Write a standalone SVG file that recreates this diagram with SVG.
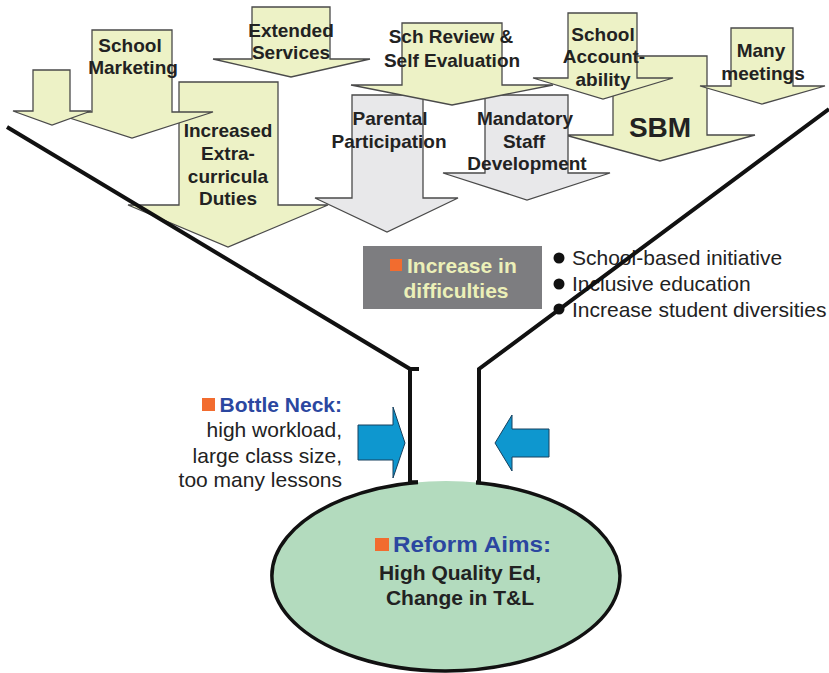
<svg xmlns="http://www.w3.org/2000/svg" width="829" height="673" viewBox="0 0 829 673">
<style>
.ya{fill:#edf2c6;stroke:#4a4a4a;stroke-width:1.3;stroke-linejoin:miter}
.ga{fill:#e8e8ea;stroke:#4a4a4a;stroke-width:1.3}
.lb{font-family:"Liberation Sans",Arial,sans-serif;font-weight:bold;font-size:19px;fill:#222;text-anchor:middle}
.fn{fill:none;stroke:#111;stroke-width:4;stroke-linejoin:miter}
.bt{font-family:"Liberation Sans",Arial,sans-serif;font-size:21px;fill:#222}
.ba{fill:#0e97cf;stroke:#16405e;stroke-width:1}
.sq{fill:#f26c2f}
</style>
<rect width="829" height="673" fill="#fff"/>

<g id="increased-duties">
<polygon class="ya" points="179,82 278,82 278,205 328,205 228,247 128,205 179,205"/>
<text class="lb" x="228" y="137">Increased</text>
<text class="lb" x="228" y="160">Extra-</text>
<text class="lb" x="228" y="183">curricula</text>
<text class="lb" x="228" y="205">Duties</text>
</g>
<g id="school-marketing">
<polygon class="ya" points="92,30 172,30 172,112 213,112 132,138 51,112 92,112"/>
<text class="lb" x="130" y="52">School</text>
<text class="lb" x="133" y="74">Marketing</text>
</g>
<g id="small-arrow">
<polygon class="ya" points="33,70 70,70 70,111 91,111 52,125 13,111 33,111"/>
</g>
<g id="extended-services">
<polygon class="ya" points="252,7 330,7 330,59 370,59 291,77 213,59 252,59"/>
<text class="lb" x="291" y="37">Extended</text>
<text class="lb" x="291" y="59">Services</text>
</g>
<g id="sbm">
<polygon class="ya" points="613,56 707,56 707,135 755,135 660,161 565,135 613,135"/>
<text class="lb" x="660" y="137" style="font-size:28px">SBM</text>
</g>
<g id="mandatory-staff-development">
<polygon class="ga" points="485,95 568,95 568,173 610,173 527,200 443,173 485,173"/>
</g>
<g id="parental-participation">
<polygon class="ga" points="352,95 423,95 423,198 458,198 387,232 315,198 352,198"/>
</g>
<g id="sch-review">
<polygon class="ya" points="402,23 502,23 502,85 553,85 452,105 351,85 402,85"/>
<text class="lb" x="451" y="43">Sch Review &amp;</text>
<text class="lb" x="452" y="67">Self Evaluation</text>
</g>
<g id="parental-label">
<text class="lb" x="390" y="125">Parental</text>
<text class="lb" x="389" y="148">Participation</text>
</g>
<g id="mandatory-label">
<text class="lb" x="525" y="125">Mandatory</text>
<text class="lb" x="524" y="148">Staff</text>
<text class="lb" x="527" y="170">Development</text>
</g>
<g id="school-accountability">
<polygon class="ya" points="568,13 637,13 637,78 673,78 603,99 533,78 568,78"/>
<text class="lb" x="603" y="41">School</text>
<text class="lb" x="604" y="63">Account-</text>
<text class="lb" x="603" y="86">ability</text>
</g>
<g id="many-meetings">
<polygon class="ya" points="731,28 793,28 793,86 825,86 762,104 700,86 731,86"/>
<text class="lb" x="761" y="57">Many</text>
<text class="lb" x="763" y="80">meetings</text>
</g>

<g id="increase-difficulties">
<rect x="363" y="246" width="179" height="63" fill="#7d7d80"/>
<rect class="sq" x="390" y="259" width="12" height="12"/>
<text x="407" y="273" style="font-family:'Liberation Sans',Arial,sans-serif;font-weight:bold;font-size:21px;fill:#ecf0b8">Increase in</text>
<text x="456" y="298" text-anchor="middle" style="font-family:'Liberation Sans',Arial,sans-serif;font-weight:bold;font-size:21px;fill:#ecf0b8">difficulties</text>
</g>
<g id="bullets">
<circle cx="559" cy="258" r="5.5" fill="#111"/>
<circle cx="559" cy="284" r="5.5" fill="#111"/>
<circle cx="559" cy="309" r="5.5" fill="#111"/>
<text class="bt" x="572" y="265">School-based initiative</text>
<text class="bt" x="572" y="291">Inclusive education</text>
<text class="bt" x="572" y="317">Increase student diversities</text>
</g>

<g id="reform-aims">
<ellipse cx="446" cy="576" rx="174" ry="95" fill="#b3dbbe"/>
<path class="fn" style="stroke-width:3.5" d="M418,482.2 A174,95 0 1 0 476,482.4"/>
<rect class="sq" x="375" y="538" width="14" height="13"/>
<text x="393" y="552" textLength="158" lengthAdjust="spacingAndGlyphs" style="font-family:'Liberation Sans',Arial,sans-serif;font-weight:bold;font-size:22px;fill:#2b47a0">Reform Aims:</text>
<text class="lb" x="460" y="580" style="font-size:21px">High Quality Ed,</text>
<text class="lb" x="460" y="605" style="font-size:21px">Change in T&amp;L</text>
</g>

<g id="bottle-neck">
<rect class="sq" x="202" y="398" width="13" height="13"/>
<text x="342" y="412" text-anchor="end" style="font-family:'Liberation Sans',Arial,sans-serif;font-weight:bold;font-size:21px;fill:#2b47a0">Bottle Neck:</text>
<text class="bt" x="342" y="437" text-anchor="end">high workload,</text>
<text class="bt" x="342" y="463" text-anchor="end">large class size,</text>
<text class="bt" x="342" y="487" text-anchor="end">too many lessons</text>
</g>
<g id="pressure-left">
<polygon class="ba" points="358,425 393,425 393,407 405,443 393,478 393,460 358,460"/>
</g>
<g id="pressure-right">
<polygon class="ba" points="549,429 512,429 512,415 495,443 512,471 512,457 549,457"/>
</g>

<g id="connectors">
<path class="fn" d="M7,127 L410,369 L410,482.2 L418,482.2"/>
<path class="fn" d="M419,369 L410,369"/>
<path class="fn" d="M829,109 L479,369 L479,482.4 L476,482.4"/>
</g>
</svg>
